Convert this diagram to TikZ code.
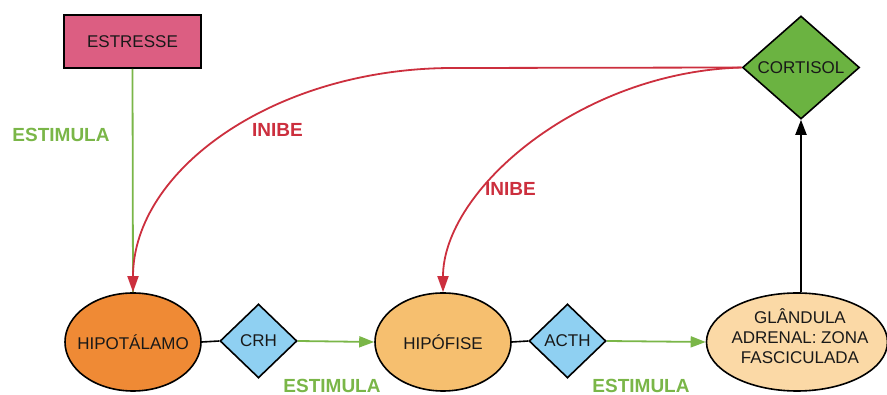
\documentclass[tikz,border=0pt]{standalone}
\usepackage{fontspec}
\setmainfont{Liberation Sans}
\usetikzlibrary{shapes.geometric,arrows.meta}
\definecolor{pinkbox}{HTML}{DC5E82}
\definecolor{cortgreen}{HTML}{6BB341}
\definecolor{hipoorange}{HTML}{EF8A35}
\definecolor{hipofise}{HTML}{F6BF6F}
\definecolor{glandula}{HTML}{FBD9A6}
\definecolor{hormblue}{HTML}{8FD0F2}
\definecolor{stimgreen}{HTML}{7AB648}
\definecolor{inhred}{HTML}{CC2F3E}
\tikzset{
  nodetext/.style={font=\fontsize{17}{20}\selectfont, text=black!90},
  organ/.style={ellipse, draw=black, line width=1.6pt, inner sep=0pt, inner xsep=-10pt, nodetext, align=center},
  hormone/.style={diamond, draw=black, line width=1.6pt, inner sep=0pt, aspect=1, nodetext},
  stimlabel/.style={font=\fontsize{19}{22}\selectfont\bfseries, text=stimgreen},
  inhlabel/.style={font=\fontsize{19}{22}\selectfont\bfseries, text=inhred},
  stimline/.style={draw=stimgreen, line width=1.8pt},
  stimarrow/.style={stimline, -{Triangle[length=15pt,width=11pt]}},
  inharrow/.style={draw=inhred, line width=1.8pt, -{Triangle[length=16pt,width=11pt]}},
  link/.style={draw=black, line width=1.6pt},
}
\begin{document}
\begin{tikzpicture}[x=1pt,y=-1pt]
\useasboundingbox (0,0) rectangle (887,395);

\node[draw=black, line width=1.6pt, fill=pinkbox, minimum width=137pt, minimum height=53pt, inner sep=0pt, nodetext] (estresse) at (132.5,41.5) {ESTRESSE};
\node[hormone, fill=cortgreen, minimum width=117pt, minimum height=103pt] (cortisol) at (801,67.5) {CORTISOL};

\node[organ, fill=hipoorange, minimum width=136pt, minimum height=98pt] (hipotalamo) at (133,342) {HIPOTÁLAMO};
\node[hormone, fill=hormblue, minimum width=77pt, minimum height=74pt] (crh) at (258.5,341) {CRH};
\node[organ, fill=hipofise, minimum width=136pt, minimum height=98pt] (hipofise) at (443,342) {HIPÓFISE};
\node[hormone, fill=hormblue, minimum width=77pt, minimum height=74pt] (acth) at (567.5,341) {ACTH};
\node[organ, fill=glandula, minimum width=181pt, minimum height=98pt] (glandula) at (797,342) {};
\node[nodetext, align=center, inner sep=0pt] (glandtext) at (800,336) {GLÂNDULA\\ADRENAL: ZONA\\FASCICULADA};

% connectors
\draw[stimline] (estresse.south) -- (hipotalamo.north);
\draw[link] (hipotalamo.east) -- (crh.west);
\draw[link] (hipofise.east) -- (acth.west);
\draw[stimarrow] (crh.east) -- (hipofise.west);
\draw[stimarrow] (acth.east) -- (glandula.west);
\draw[draw=black, line width=2pt, -{Triangle[length=15pt,width=11pt]}] (cortisol.south |- glandula.north) -- (cortisol.south);

\coordinate (bend) at (453,68);
\draw[inharrow] (cortisol.west) -- (bend) .. controls (276,68) and (133,169) .. (hipotalamo.north);
\draw[inharrow] (cortisol.west) .. controls (580,72) and (443,190) .. (hipofise.north);

% labels
\node[stimlabel] (l1) at (61,135) {ESTIMULA};
\node[inhlabel] (l2) at (277.5,130) {INIBE};
\node[inhlabel] (l3) at (510.5,188.5) {INIBE};
\node[stimlabel] (l4) at (332,386) {ESTIMULA};
\node[stimlabel] (l5) at (641,386) {ESTIMULA};
\end{tikzpicture}
\end{document}
